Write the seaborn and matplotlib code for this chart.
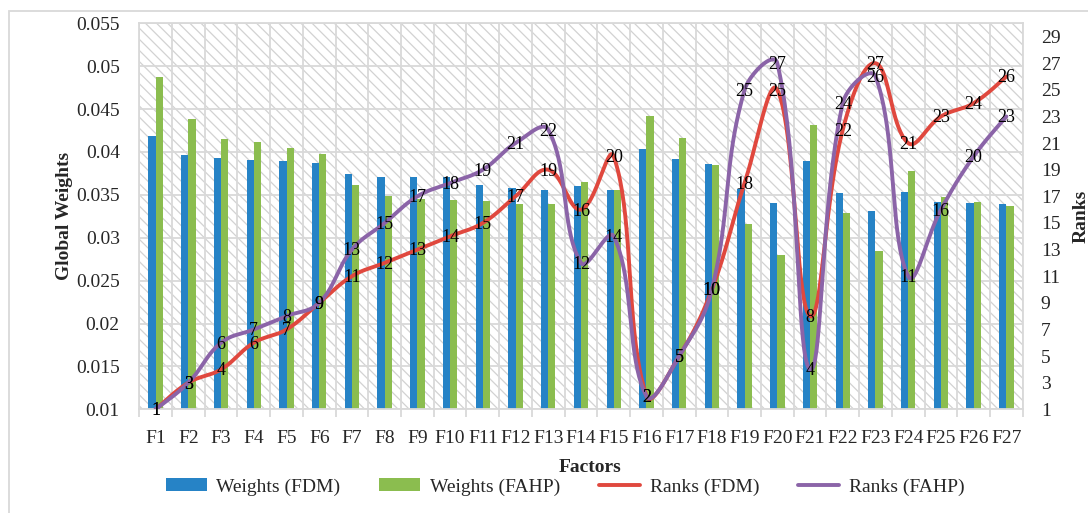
import numpy as np
import pandas as pd
import matplotlib
matplotlib.use("Agg")
import matplotlib.pyplot as plt
import seaborn as sns
from matplotlib.patches import Rectangle, Patch
from matplotlib.lines import Line2D

# ---------------- data ----------------
factors = [f"F{i}" for i in range(1, 28)]
weights_fdm = [0.0419, 0.0396, 0.0393, 0.0391, 0.0390, 0.0387, 0.0374, 0.0371, 0.0371,
               0.0371, 0.0362, 0.0358, 0.0356, 0.0360, 0.0356, 0.0404, 0.0392, 0.0386,
               0.0357, 0.0340, 0.0390, 0.0352, 0.0331, 0.0353, 0.0342, 0.0341, 0.0339]
weights_fahp = [0.0487, 0.0438, 0.0415, 0.0412, 0.0405, 0.0398, 0.0361, 0.0349, 0.0345,
                0.0344, 0.0343, 0.0339, 0.0339, 0.0365, 0.0356, 0.0442, 0.0416, 0.0385,
                0.0316, 0.0280, 0.0432, 0.0329, 0.0285, 0.0378, 0.0348, 0.0342, 0.0337]
ranks_fdm = [1, 3, 4, 6, 7, 9, 11, 12, 13, 14, 15, 17, 19, 16, 20, 2, 5, 10, 18, 25,
             8, 22, 27, 21, 23, 24, 26]
ranks_fahp = [1, 3, 6, 7, 8, 9, 13, 15, 17, 18, 19, 21, 22, 12, 14, 2, 5, 10, 25, 27,
              4, 24, 26, 11, 16, 20, 23]
series_w = ["Weights (FDM)", "Weights (FAHP)"]
series_r = ["Ranks (FDM)", "Ranks (FAHP)"]
left_ticks = [0.01, 0.015, 0.02, 0.025, 0.03, 0.035, 0.04, 0.045, 0.05, 0.055]
right_ticks = list(range(1, 30, 2))

# ---------------- style ----------------
BLUE = "#2683C6"
GREEN = "#8BBD4F"
RED = "#E0483E"
PURPLE = "#8B64A8"
GRID = "#d9d9d9"

sns.set_theme(style="white")
plt.rcParams["font.family"] = ["Liberation Serif", "DejaVu Serif"]
plt.rcParams["hatch.color"] = "#d2d2d2"
plt.rcParams["hatch.linewidth"] = 0.9
FS = 14
FS_LAB = 13

fig = plt.figure(figsize=(10.88, 5.13), dpi=100)
ax = fig.add_axes([0.128, 0.2021, 0.812, 0.7525])

# hatched background
ax.add_patch(Rectangle((0, 0), 1, 1, transform=ax.transAxes, facecolor="white",
                       edgecolor="#d2d2d2", hatch="\\\\\\", lw=0, zorder=0.1))

df = pd.DataFrame({
    "Factor": factors * 2,
    "Weight": weights_fdm + weights_fahp,
    "Series": [series_w[0]] * 27 + [series_w[1]] * 27,
})
sns.barplot(data=df, x="Factor", y="Weight", hue="Series", palette=[BLUE, GREEN],
            width=0.44, gap=0, saturation=1, linewidth=0, legend=False, ax=ax, zorder=2)

ax.set_xlim(-0.5, 26.5)
ax.set_ylim(0.01, 0.055)
ax.set_yticks(left_ticks)
ax.set_yticklabels([f"{v:g}" for v in left_ticks], fontsize=FS)
ax.set_xticks(range(27))
ax.set_xticklabels(factors, fontsize=FS)
ax.set_xticks(np.arange(-0.5, 27, 1), minor=True)
ax.grid(True, which="major", axis="y", color=GRID, lw=1.3)
ax.grid(True, which="minor", axis="x", color=GRID, lw=1.3)
ax.set_axisbelow(True)
ax.tick_params(axis="y", which="both", length=0, pad=14)
ax.tick_params(axis="x", which="major", length=0, pad=15)
ax.tick_params(axis="x", which="minor", length=6, width=1.3, color=GRID, bottom=True)
for s in ax.spines.values():
    s.set_color(GRID)
    s.set_linewidth(1.3)
ax.set_xlabel("")
ax.set_ylabel("Global Weights", fontsize=FS, fontweight="bold")
ax.yaxis.set_label_coords(-0.075, 0.5)

# ---------------- rank lines ----------------
ax2 = ax.twinx()
ax2.set_ylim(1, 30)
ax2.set_yticks(right_ticks)
ax2.set_yticklabels([str(v) for v in right_ticks], fontsize=FS)
ax2.tick_params(axis="y", length=0, pad=13)
for s in ax2.spines.values():
    s.set_visible(False)
ax2.set_ylabel("Ranks", fontsize=FS, fontweight="bold", rotation=90)
ax2.yaxis.set_label_coords(1.056, 0.5)

# screen scale (pixels per data unit) so the smoothing behaves like Excel's
bb = ax.get_window_extent(fig.canvas.get_renderer())
SX = bb.width / 27.0
SY = bb.height / 29.0
TENSION = 0.4


def smooth(values, n=40):
    """Excel-style smoothed line: Bezier segments, tangents scaled by segment lengths."""
    P = np.column_stack([np.arange(len(values), dtype=float) * SX,
                         np.asarray(values, dtype=float) * SY])
    m = len(P)
    out = []
    for i in range(m - 1):
        p0 = P[max(i - 1, 0)]
        p1 = P[i]
        p2 = P[i + 1]
        p3 = P[min(i + 2, m - 1)]
        d01 = np.linalg.norm(p1 - p0)
        d12 = np.linalg.norm(p2 - p1)
        d23 = np.linalg.norm(p3 - p2)
        f1 = d12 / (d01 + d12) * TENSION if d01 > 0 else TENSION / 2
        f2 = d12 / (d12 + d23) * TENSION if d23 > 0 else TENSION / 2
        c1 = p1 + (p2 - p0) * f1
        c2 = p2 - (p3 - p1) * f2
        t = np.linspace(0, 1, n, endpoint=(i == m - 2))[:, None]
        b = (1 - t) ** 3 * p1 + 3 * (1 - t) ** 2 * t * c1 + 3 * (1 - t) * t ** 2 * c2 \
            + t ** 3 * p2
        out.append(b)
    out = np.vstack(out)
    return out[:, 0] / SX, out[:, 1] / SY


for vals, col in [(ranks_fdm, RED), (ranks_fahp, PURPLE)]:
    sx, sy = smooth(vals)
    sns.lineplot(x=sx, y=sy, sort=False, estimator=None, color=col, lw=2.8, ax=ax2,
                 zorder=3)

for vals in [ranks_fdm, ranks_fahp]:
    for i, v in enumerate(vals):
        ax2.annotate(str(v), (i, v), xytext=(0, -1), textcoords="offset points",
                     ha="center", va="center", fontsize=FS_LAB, color="black", zorder=5,
                     annotation_clip=False)

# ---------------- labels / legend / frame ----------------
fig.text(590 / 1088, 1 - 467 / 513, "Factors", ha="center", va="center",
         fontsize=FS, fontweight="bold")

handles = [Patch(facecolor=BLUE, edgecolor="none"),
           Patch(facecolor=GREEN, edgecolor="none"),
           Line2D([], [], color=RED, lw=2.8),
           Line2D([], [], color=PURPLE, lw=2.8)]
fig.legend(handles, series_w + series_r, loc="center",
           bbox_to_anchor=(565 / 1088, 1 - 487 / 513), ncol=4, frameon=False,
           fontsize=FS, handlelength=2.1, handleheight=0.65, handletextpad=0.5,
           columnspacing=2.0)

fig.patches.append(Rectangle((9 / 1088, -0.05), 1.2, 1 - 11 / 513 + 0.05,
                             transform=fig.transFigure, fill=False,
                             edgecolor=GRID, lw=1.3))

fig.savefig("out.png", dpi=100, facecolor="white")
